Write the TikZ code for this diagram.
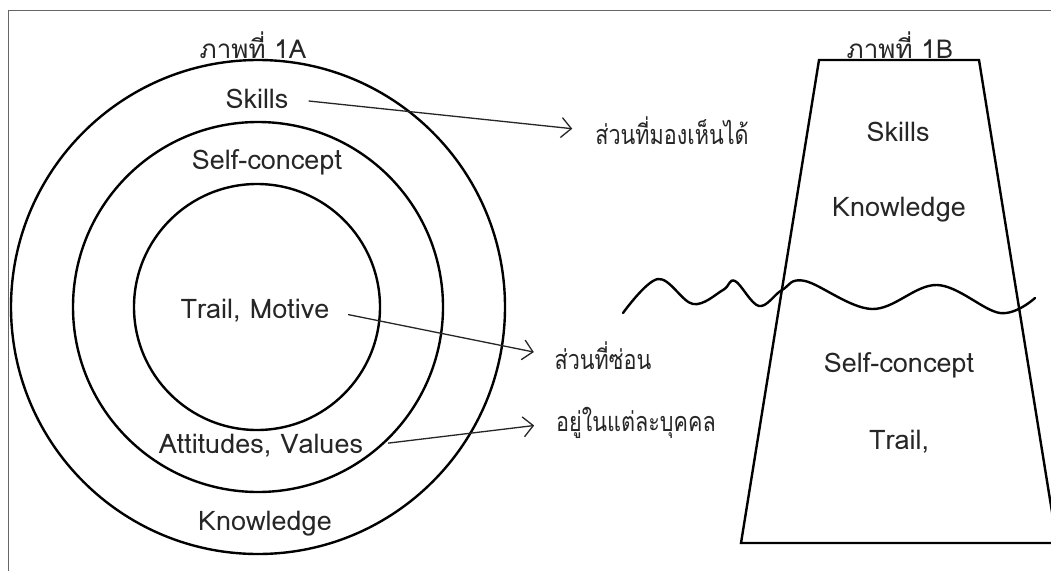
\documentclass[tikz,border=0pt]{standalone}
\usepackage{fontspec}
\newfontfamily\thaifont[Script=Thai]{Loma}
\newfontfamily\thainarrow[Script=Thai,FakeStretch=0.8]{Loma}
\usetikzlibrary{arrows.meta}
\begin{document}
\begin{tikzpicture}[x=1pt,y=-1pt,
  every node/.style={inner sep=1pt, text=black!85},
  lat/.style={font=\thaifont\fontsize{27}{31}\selectfont},
  thai/.style={font=\thainarrow\fontsize{27}{31}\selectfont},
  ttl/.style={font=\thaifont\fontsize{26}{30}\selectfont},
  ring/.style={line width=2.4pt, black},
  frameline/.style={line width=1pt, black!60},
  arr/.style={line width=1.3pt, black!85, -{Straight Barb[length=10pt,width=20pt,line width=1.3pt]}},
  wave/.style={line width=2.4pt, black, line cap=round}]
\useasboundingbox (0,0) rectangle (1051,570);
\fill[white] (0,0) rectangle (1051,570);
% frame
\draw[frameline] (8,575) -- (8,10) -- (1060,10);
% 1A circles
\draw[ring] (258,307) circle[radius=247];
\draw[ring] (258,307) circle[radius=185];
\draw[ring] (257,307) circle[radius=123];
\node[ttl] (tA) at (253,45) {ภาพที่ 1A};
\node[lat] (skA) at (257,99) {Skills};
\node[lat] (scA) at (267,162) {Self-concept};
\node[lat] (trA) at (255,311) {Trail, Motive};
\node[lat] (atA) at (261,446) {Attitudes, Values};
\node[lat] (knA) at (265,524) {Knowledge};
% labels
\node[thai] (vis) at (672,131) {ส่วนที่มองเห็นได้};
\node[thai] (hid) at (603,356) {ส่วนที่ซ่อน};
\node[thai] (ind) at (636,423) {อยู่ในแต่ละบุคคล};
\draw[arr, shorten <=19pt, shorten >=22pt] (skA.east) -- (vis.west);
\draw[arr, shorten <=18pt, shorten >=20pt] (trA.east) -- (hid.west);
\draw[arr, shorten <=24pt, shorten >=21pt] (atA.east) -- (ind.west);
% 1B trapezoid
\draw[ring, line join=miter] (741,543) -- (819,60) -- (979,60) -- (1057,543) -- cycle;
\node[ttl] (tB) at (900,45) {ภาพที่ 1B};
\node[lat] (skB) at (898,132) {Skills};
\node[lat] (knB) at (899,210) {Knowledge};
\node[lat] (scB) at (899,365) {Self-concept};
\node[lat] (trB) at (899,442) {Trail,};
% water line
\draw[wave] plot[smooth, tension=0.6] coordinates {(623,313) (658,279) (693,304) (723,290) (735,281) (759,306) (782,290) (805,281) (872,309) (937,285) (1000,313) (1035,298)};
\end{tikzpicture}
\end{document}
